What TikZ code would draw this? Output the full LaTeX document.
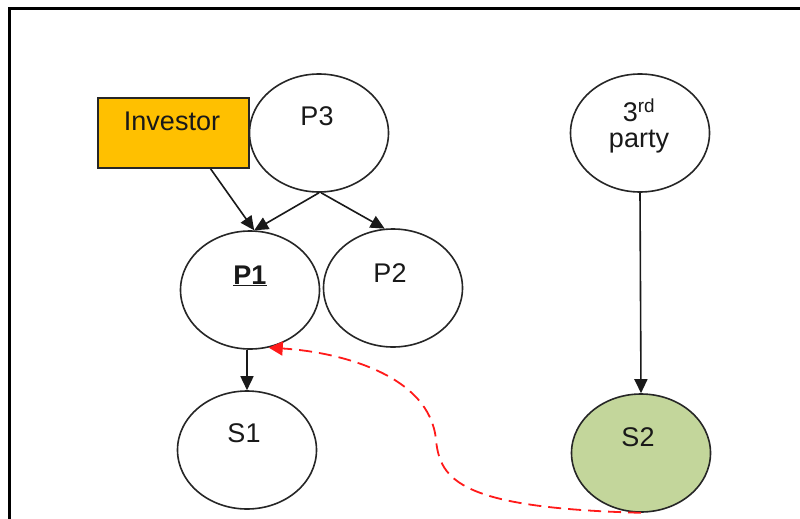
\documentclass[tikz,border=0pt]{standalone}
\usepackage{fontspec}
\setmainfont{Liberation Sans}
\usetikzlibrary{arrows.meta,shapes.geometric}
\definecolor{invfill}{HTML}{FFC000}
\definecolor{sfill}{HTML}{C3D69B}
\definecolor{dred}{HTML}{FF1A1A}
\begin{document}
\begin{tikzpicture}[x=1pt,y=-1pt,
  ell/.style={draw=black!85,line width=1.6pt,ellipse,minimum width=139pt,minimum height=118pt,inner sep=0pt},
  lbl/.style={inner sep=0pt,font=\fontsize{27}{26}\selectfont,text=black!90},
  invbox/.style={draw=black!85,line width=1.6pt,fill=invfill,minimum width=151pt,minimum height=70pt,inner sep=0pt},
  conn/.style={draw=black!90,line width=1.6pt,-{Triangle[length=14pt,width=13pt]}},
  dconn/.style={draw=dred,line width=1.8pt,dash pattern=on 13pt off 7pt,-{Triangle[length=14pt,width=14pt]}}
]
\useasboundingbox (0,0) rectangle (800,519);
\clip (0,0) rectangle (800,519);
\fill[white] (0,0) rectangle (800,519);
\draw[line width=2.5pt] (9.5,8.5) rectangle (840,560);

\node[invbox] (Inv) at (173.5,133) {};
\node[lbl] (Invl) at (172,121) {Investor};

\node[ell] (P3) at (319,133) {};
\node[lbl] (P3l) at (317,116) {P3};

\node[ell] (P1) at (250,290) {};
\node[lbl] (P1l) at (250,276) {\textbf{\underline{P1}}};

\node[ell] (P2) at (393,288) {};
\node[lbl] (P2l) at (390,273) {P2};

\node[ell] (S1) at (247,450) {};
\node[lbl] (S1l) at (244,433) {S1};

\node[ell,fill=sfill] (S2) at (641,453) {};
\node[lbl] (S2l) at (638,437) {S2};

\node[ell] (T) at (640,133) {};
\node[lbl,align=center] (Tl) at (639,126) {3\textsuperscript{rd}\\party};

\draw[conn] (Inv.-44) -- (P1.86);
\draw[conn] (P3.south) -- (P1.86);
\draw[conn] (P3.-88) -- (P2.98);
\draw[conn] (S1.north |- P1.south) -- (S1.north);
\draw[conn] (T.south) -- (S2.north);
\draw[dconn] (S2.south) .. controls (460,508) and (440,480) .. (436,440)
  .. controls (430,375) and (340,352) .. (P1.-72);
\end{tikzpicture}
\end{document}
